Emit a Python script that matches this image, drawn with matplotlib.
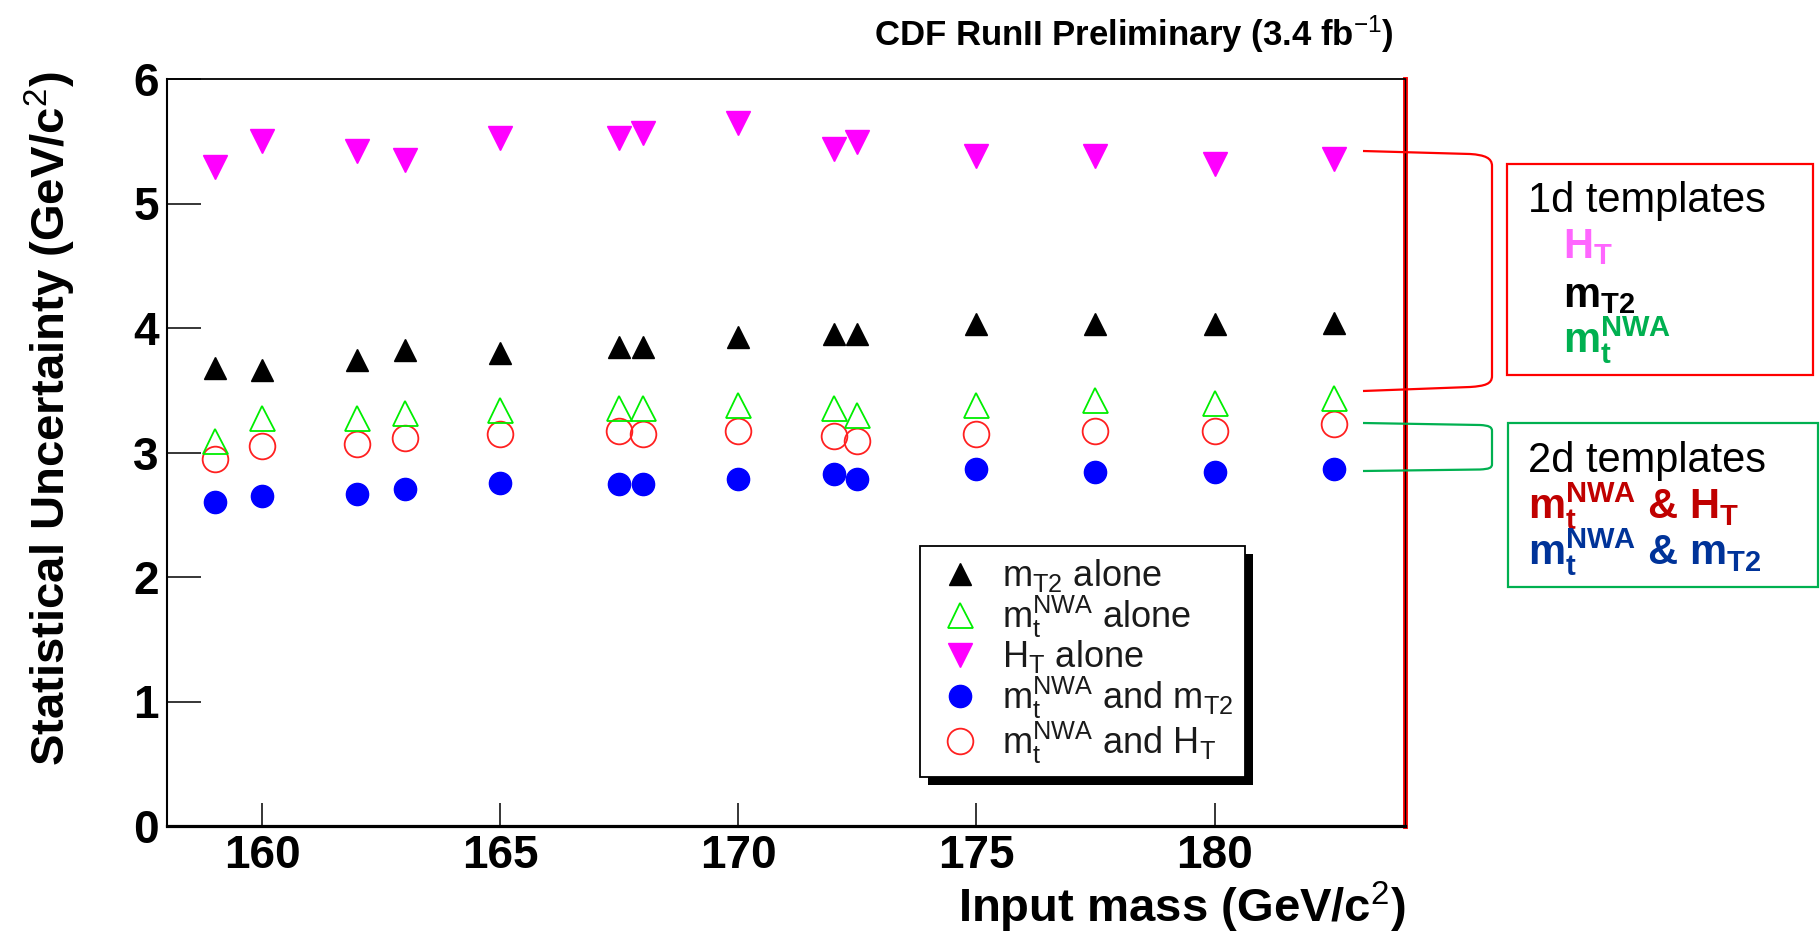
import matplotlib
matplotlib.use("Agg")
import matplotlib.pyplot as plt
from matplotlib.patches import Rectangle, PathPatch
from matplotlib.path import Path
from matplotlib.transforms import IdentityTransform

plt.rcParams['font.family'] = ['Liberation Sans', 'DejaVu Sans']
plt.rcParams['mathtext.fontset'] = 'custom'
plt.rcParams['mathtext.rm'] = 'Liberation Sans'
plt.rcParams['mathtext.it'] = 'Liberation Sans'
plt.rcParams['mathtext.bf'] = 'Liberation Sans:bold'

# input top mass points (GeV/c^2)
masses = [159, 160, 162, 163, 165, 167.5, 168, 170, 172, 172.5, 175, 177.5, 180, 182.5]

# statistical uncertainty for each template set (GeV/c^2)
mt2_alone = [3.68, 3.66, 3.74, 3.82, 3.80, 3.85, 3.85, 3.93, 3.95, 3.95, 4.03, 4.03, 4.03, 4.04]
mtnwa_alone = [3.09, 3.28, 3.28, 3.32, 3.34, 3.36, 3.36, 3.38, 3.36, 3.30, 3.38, 3.42, 3.40, 3.44]
ht_alone = [5.29, 5.50, 5.42, 5.35, 5.53, 5.53, 5.57, 5.65, 5.44, 5.49, 5.38, 5.38, 5.32, 5.36]
mtnwa_mt2 = [2.60, 2.65, 2.67, 2.71, 2.755, 2.75, 2.75, 2.79, 2.83, 2.79, 2.87, 2.845, 2.845, 2.87]
mtnwa_ht = [2.95, 3.05, 3.07, 3.12, 3.145, 3.17, 3.15, 3.17, 3.13, 3.09, 3.15, 3.17, 3.17, 3.23]

xticks = [160, 165, 170, 175, 180]
yticks = [0, 1, 2, 3, 4, 5, 6]

W, H = 1820, 932
fig = plt.figure(figsize=(W / 100, H / 100), dpi=100)
ax = fig.add_axes([167 / W, 1 - 826 / H, (1405 - 167) / W, (826 - 79) / H])

ax.plot(masses, mtnwa_ht, ls='none', marker='o', ms=18.5, mfc='none', mec='#ff2020', mew=1.3,
        label=r'm$_t^{NWA}$ and H$_T$', zorder=3)
ax.plot(masses, mt2_alone, ls='none', marker='^', ms=16, color='black',
        label=r'm$_{T2}$ alone', zorder=3)
ax.plot(masses, mtnwa_alone, ls='none', marker='^', ms=18, mfc='none', mec='#00ee00', mew=1.3,
        label=r'm$_t^{NWA}$ alone', zorder=3)
ax.plot(masses, ht_alone, ls='none', marker='v', ms=17.5, color='#ff00ff',
        label=r'H$_T$ alone', zorder=3)
ax.plot(masses, mtnwa_mt2, ls='none', marker='o', ms=16, color='#0000ff',
        label=r'm$_t^{NWA}$ and m$_{T2}$', zorder=3)

ax.set_xlim(158, 184)
ax.set_ylim(0, 6)
ax.set_xticks(xticks)
ax.set_yticks(yticks)
ax.tick_params(axis='x', direction='in', length=16.5, width=1.1, labelsize=33, pad=6)
ax.tick_params(axis='y', direction='in', length=24.5, width=1.1, labelsize=33, pad=6)
for lbl in ax.get_xticklabels() + ax.get_yticklabels():
    lbl.set_fontweight('bold')

ax.spines['left'].set_linewidth(1.5)
ax.spines['top'].set_linewidth(1.3)
ax.spines['bottom'].set_linewidth(2.3)
ax.spines['right'].set_linewidth(1.0)
ax.plot([1, 1], [0, 1], transform=ax.transAxes, color='red', lw=3.5, clip_on=False, zorder=2.4)

handles, labels = ax.get_legend_handles_labels()
order = [1, 2, 3, 4, 0]
leg = ax.legend([handles[i] for i in order], [labels[i] for i in order],
                loc='upper left', bbox_to_anchor=(0.608, 0.375), borderaxespad=0,
                fontsize=26, handlelength=1.6, handletextpad=0.35, labelspacing=-0.03,
                borderpad=0.32, fancybox=False, framealpha=1, edgecolor='black')
leg.get_frame().set_linewidth(1.3)
for t in leg.get_texts():
    t.set_color('#1a1a1a')

fig.text(1394 / W, 1 - 46 / H, r'CDF RunII Preliminary (3.4 fb$^{-1}$)', fontsize=25,
         fontweight='bold', ha='right', va='baseline')
fig.text(1406 / W, 1 - 922 / H, r'Input mass (GeV/c$^{2}$)', fontsize=34,
         fontweight='bold', ha='right', va='baseline')
fig.text(50 / W, 1 - 419 / H, r'Statistical Uncertainty (GeV/c$^{2}$)', fontsize=34,
         fontweight='bold', rotation=90, ha='center', va='center')

# overlay in pixel coordinates for the right-hand annotations
ov = fig.add_axes([0, 0, 1, 1], zorder=5)
ov.set_xlim(0, W)
ov.set_ylim(H, 0)
ov.axis('off')

red_brace = Path([(1363, 151), (1470, 154), (1485, 155), (1492, 158), (1492, 166),
                  (1492, 376), (1492, 384), (1485, 386), (1470, 387), (1363, 391)],
                 [Path.MOVETO, Path.LINETO, Path.CURVE4, Path.CURVE4, Path.CURVE4,
                  Path.LINETO, Path.CURVE4, Path.CURVE4, Path.CURVE4, Path.LINETO])
ov.add_patch(PathPatch(red_brace, fill=False, edgecolor='#ff0000', lw=1.6))
green_brace = Path([(1363, 423), (1480, 425), (1489, 425.5), (1492, 427), (1492, 431),
                    (1492, 464), (1492, 468), (1489, 469), (1480, 469.5), (1363, 471)],
                   [Path.MOVETO, Path.LINETO, Path.CURVE4, Path.CURVE4, Path.CURVE4,
                    Path.LINETO, Path.CURVE4, Path.CURVE4, Path.CURVE4, Path.LINETO])
ov.add_patch(PathPatch(green_brace, fill=False, edgecolor='#00b050', lw=1.6))

ov.add_patch(Rectangle((1507, 164), 306, 211, fill=False, edgecolor='#ff0000', lw=1.6))
ov.add_patch(Rectangle((1508, 423), 310, 164, fill=False, edgecolor='#00b050', lw=1.6))

ov.text(1528, 212, '1d templates', fontsize=30, color='black', va='baseline')
ov.text(1563, 258, r'$\mathbf{H_T}$', fontsize=30, color='#ff66ff', va='baseline')
ov.text(1563, 307, r'$\mathbf{m_{T2}}$', fontsize=30, color='black', va='baseline')
ov.text(1563, 353, r'$\mathbf{m_t^{NWA}}$', fontsize=30, color='#00b050', va='baseline')
ov.text(1528, 472, '2d templates', fontsize=30, color='black', va='baseline')
ov.text(1528, 518, r'$\mathbf{m_t^{NWA}}$ & $\mathbf{H_T}$', fontsize=30, fontweight='bold',
        color='#c00000', va='baseline')
ov.text(1528, 565, r'$\mathbf{m_t^{NWA}}$ & $\mathbf{m_{T2}}$', fontsize=30, fontweight='bold',
        color='#003399', va='baseline')

# legend drop shadow like the ROOT one
fig.canvas.draw()
bb = leg.get_window_extent()
ax.add_patch(Rectangle((bb.x0 + 8, bb.y0 - 8), bb.width, bb.height, transform=IdentityTransform(),
                       facecolor='black', edgecolor='none', clip_on=False, zorder=4.9))

fig.savefig('out.png', dpi=100)
